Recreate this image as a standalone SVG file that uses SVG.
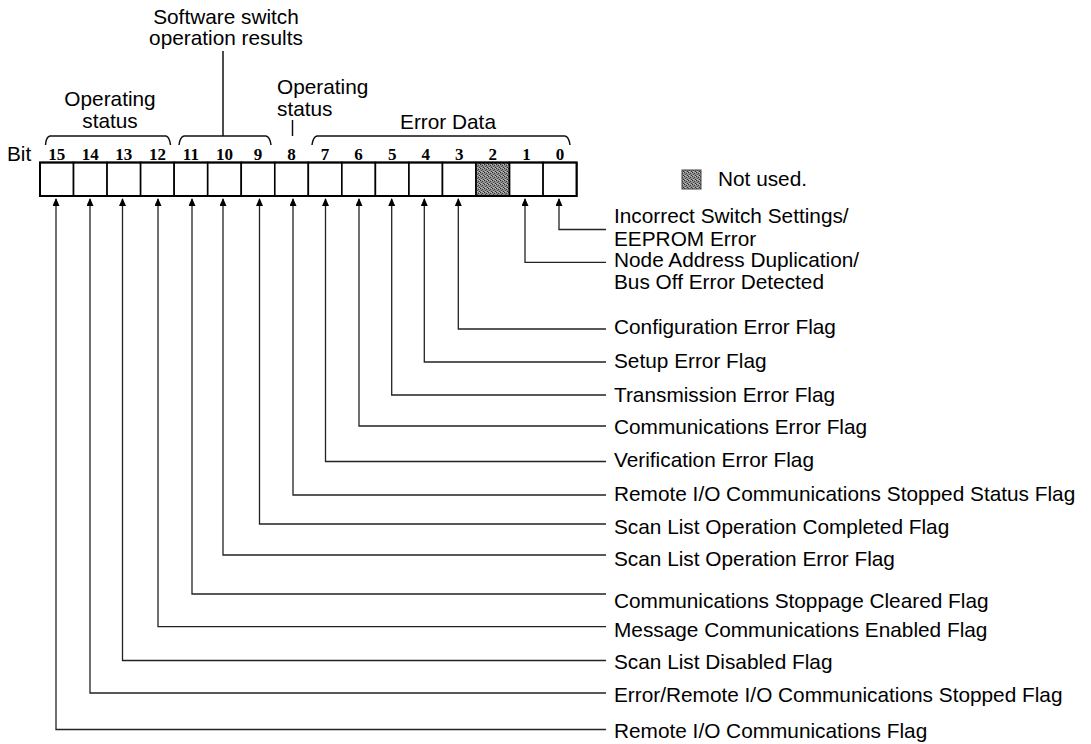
<svg xmlns="http://www.w3.org/2000/svg" width="1091" height="744" viewBox="0 0 1091 744">
<style>
.lbl{font-family:"Liberation Sans",Arial,sans-serif;font-size:20.8px;fill:#000}
.num{font-family:"Liberation Serif","Times New Roman",serif;font-weight:bold;font-size:17px;fill:#000;text-anchor:middle}
.mid{text-anchor:middle}
.ln{fill:none;stroke:#222;stroke-width:1.3}
.br{fill:none;stroke:#111;stroke-width:1.5}
.cell{fill:#fff;stroke:#000;stroke-width:1.6}
</style>
<defs>
<marker id="ah" markerWidth="8" markerHeight="10" refX="7" refY="3.5" orient="auto" markerUnits="userSpaceOnUse">
<path d="M0,0 L8,3.5 L0,7 Z" fill="#000"/>
</marker>
<pattern id="stip" width="4" height="4" patternUnits="userSpaceOnUse">
<rect width="4" height="4" fill="#8e8e8e"/>
<rect x="0" y="0" width="1" height="1" fill="#2a2a2a"/>
<rect x="2" y="1" width="1" height="1" fill="#3a3a3a"/>
<rect x="1" y="2" width="1" height="1" fill="#4a4a4a"/>
<rect x="3" y="3" width="1" height="1" fill="#2a2a2a"/>
<rect x="3" y="0" width="1" height="1" fill="#c0c0c0"/>
<rect x="1" y="3" width="1" height="1" fill="#c0c0c0"/>
</pattern>
</defs>

<g id="headings">
<text class="lbl mid" x="226" y="23.5">Software switch</text>
<text class="lbl mid" x="226" y="45">operation results</text>
<text class="lbl mid" x="110" y="106">Operating</text>
<text class="lbl mid" x="110" y="128">status</text>
<text class="lbl" x="277" y="94">Operating</text>
<text class="lbl" x="277" y="116">status</text>
<text class="lbl mid" x="448" y="129">Error Data</text>
<text class="lbl" x="7" y="161">Bit</text>
<path class="br" d="M223,51 V136"/>
<path class="br" d="M292.5,120 V136"/>
<path class="br" d="M45.5,145 Q46,137 50,136 H166 Q169.5,137 170.5,145"/>
<path class="br" d="M179,145 Q180,137 184,136 H266 Q270,137 271,145"/>
<path class="br" d="M312,145 Q313,137 317,136 H565 Q569,137 570,145"/>
</g>

<g id="bitnumbers">
<text class="num" x="56.8" y="160">15</text>
<text class="num" x="90.3" y="160">14</text>
<text class="num" x="123.8" y="160">13</text>
<text class="num" x="157.4" y="160">12</text>
<text class="num" x="190.9" y="160">11</text>
<text class="num" x="224.5" y="160">10</text>
<text class="num" x="258" y="160">9</text>
<text class="num" x="291.6" y="160">8</text>
<text class="num" x="325.1" y="160">7</text>
<text class="num" x="358.6" y="160">6</text>
<text class="num" x="392.2" y="160">5</text>
<text class="num" x="425.7" y="160">4</text>
<text class="num" x="459.3" y="160">3</text>
<text class="num" x="492.8" y="160">2</text>
<text class="num" x="526.4" y="160">1</text>
<text class="num" x="559.9" y="160">0</text>
</g>

<g id="register">
<rect class="cell" x="40" y="162.5" width="33.54" height="33.5"/>
<rect class="cell" x="73.54" y="162.5" width="33.54" height="33.5"/>
<rect class="cell" x="107.08" y="162.5" width="33.54" height="33.5"/>
<rect class="cell" x="140.62" y="162.5" width="33.54" height="33.5"/>
<rect class="cell" x="174.16" y="162.5" width="33.54" height="33.5"/>
<rect class="cell" x="207.7" y="162.5" width="33.54" height="33.5"/>
<rect class="cell" x="241.24" y="162.5" width="33.54" height="33.5"/>
<rect class="cell" x="274.78" y="162.5" width="33.54" height="33.5"/>
<rect class="cell" x="308.32" y="162.5" width="33.54" height="33.5"/>
<rect class="cell" x="341.86" y="162.5" width="33.54" height="33.5"/>
<rect class="cell" x="375.4" y="162.5" width="33.54" height="33.5"/>
<rect class="cell" x="408.94" y="162.5" width="33.54" height="33.5"/>
<rect class="cell" x="442.48" y="162.5" width="33.54" height="33.5"/>
<rect class="cell" x="476.02" y="162.5" width="33.54" height="33.5" style="fill:url(#stip)"/>
<rect class="cell" x="509.56" y="162.5" width="33.54" height="33.5"/>
<rect class="cell" x="543.1" y="162.5" width="33.54" height="33.5"/>
<rect x="40" y="162.5" width="536.64" height="33.5" fill="none" stroke="#000" stroke-width="2"/>
</g>

<g id="legend">
<rect x="682" y="170" width="19" height="19" fill="url(#stip)" stroke="#444" stroke-width="1"/>
<text class="lbl" x="718" y="186">Not used.</text>
</g>

<g id="connectors">
<path class="ln" marker-end="url(#ah)" d="M606,229.5 H559 V199"/>
<path class="ln" marker-end="url(#ah)" d="M606,262.3 H525 V199"/>
<path class="ln" marker-end="url(#ah)" d="M606,329 H458.3 V199"/>
<path class="ln" marker-end="url(#ah)" d="M606,362 H424.3 V199"/>
<path class="ln" marker-end="url(#ah)" d="M606,395 H391.7 V199"/>
<path class="ln" marker-end="url(#ah)" d="M606,426 H359 V199"/>
<path class="ln" marker-end="url(#ah)" d="M606,461.5 H325.5 V199"/>
<path class="ln" marker-end="url(#ah)" d="M606,495 H293 V199"/>
<path class="ln" marker-end="url(#ah)" d="M606,524 H259.5 V199"/>
<path class="ln" marker-end="url(#ah)" d="M606,555 H223 V199"/>
<path class="ln" marker-end="url(#ah)" d="M606,594 H192 V199"/>
<path class="ln" marker-end="url(#ah)" d="M606,626.7 H158 V199"/>
<path class="ln" marker-end="url(#ah)" d="M606,660.5 H122.5 V199"/>
<path class="ln" marker-end="url(#ah)" d="M606,693 H90 V199"/>
<path class="ln" marker-end="url(#ah)" d="M606,729.5 H56 V199"/>
</g>

<g id="labels">
<text class="lbl" x="614" y="223">Incorrect Switch Settings/</text>
<text class="lbl" x="614" y="246">EEPROM Error</text>
<text class="lbl" x="614" y="267">Node Address Duplication/</text>
<text class="lbl" x="614" y="289">Bus Off Error Detected</text>
<text class="lbl" x="614" y="334">Configuration Error Flag</text>
<text class="lbl" x="614" y="368">Setup Error Flag</text>
<text class="lbl" x="614" y="402">Transmission Error Flag</text>
<text class="lbl" x="614" y="434">Communications Error Flag</text>
<text class="lbl" x="614" y="467">Verification Error Flag</text>
<text class="lbl" x="614" y="501">Remote I/O Communications Stopped Status Flag</text>
<text class="lbl" x="614" y="534">Scan List Operation Completed Flag</text>
<text class="lbl" x="614" y="566">Scan List Operation Error Flag</text>
<text class="lbl" x="614" y="608">Communications Stoppage Cleared Flag</text>
<text class="lbl" x="614" y="637">Message Communications Enabled Flag</text>
<text class="lbl" x="614" y="669">Scan List Disabled Flag</text>
<text class="lbl" x="614" y="702">Error/Remote I/O Communications Stopped Flag</text>
<text class="lbl" x="614" y="738">Remote I/O Communications Flag</text>
</g>
</svg>
